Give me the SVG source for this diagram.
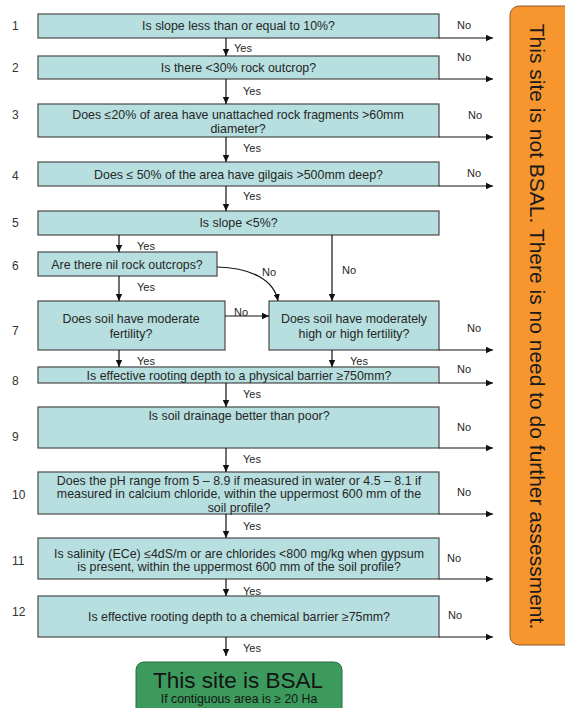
<svg xmlns="http://www.w3.org/2000/svg" width="565" height="708" viewBox="0 0 565 708">
<style>
.box{fill:#B7DFDF;stroke:#4a4a4a;stroke-width:1.2}
.t{font-family:"Liberation Sans",Arial,sans-serif;font-size:12.4px;fill:#262626;text-anchor:middle}
.n{font-family:"Liberation Sans",Arial,sans-serif;font-size:12px;fill:#333}
.l{font-family:"Liberation Sans",Arial,sans-serif;font-size:11px;fill:#262626}
.c{fill:none;stroke:#111;stroke-width:1.2}
</style>
<defs>
<marker id="ah" markerWidth="8" markerHeight="8" refX="7" refY="4" orient="auto" markerUnits="userSpaceOnUse">
<path d="M0,0.8 L7,4 L0,7.2 Z" fill="#111"/>
</marker>
</defs>
<rect width="565" height="708" fill="#fff"/>

<g id="outcome-not-bsal">
<rect x="510" y="6" width="64" height="639" rx="9" fill="#F7962F" stroke="#8a5a2a" stroke-width="1"/>
<text transform="translate(530,326.5) rotate(90)" text-anchor="middle" font-family="'Liberation Sans',Arial,sans-serif" font-size="21" fill="#1a1a1a">This site is not BSAL. There is no need to do further assessment.</text>
</g>

<g id="outcome-bsal">
<rect x="136" y="662" width="206" height="56" rx="8" fill="#3C9B5C" stroke="#2a6b40" stroke-width="1"/>
<text x="238" y="688" text-anchor="middle" font-family="'Liberation Sans',Arial,sans-serif" font-size="22.5" fill="#141414">This site is BSAL</text>
<text x="239" y="703" text-anchor="middle" font-family="'Liberation Sans',Arial,sans-serif" font-size="12.3" fill="#141414">If contiguous area is ≥ 20 Ha</text>
</g>

<g id="q1"><text class="n" x="12" y="30">1</text><rect class="box" x="38" y="14" width="401" height="24"/><text class="t" x="238.5" y="30">Is slope less than or equal to 10%?</text></g>
<g id="q2"><text class="n" x="12" y="72">2</text><rect class="box" x="38" y="56" width="401" height="23"/><text class="t" x="238.5" y="72">Is there &lt;30% rock outcrop?</text></g>
<g id="q3"><text class="n" x="12" y="119">3</text><rect class="box" x="38" y="104" width="401" height="33"/><text class="t" x="238" y="119">Does ≤20% of area have unattached rock fragments &gt;60mm</text><text class="t" x="238" y="133">diameter?</text></g>
<g id="q4"><text class="n" x="12" y="180">4</text><rect class="box" x="38" y="162" width="401" height="24"/><text class="t" x="238.5" y="179">Does ≤ 50% of the area have gilgais &gt;500mm deep?</text></g>
<g id="q5"><text class="n" x="12" y="227">5</text><rect class="box" x="38" y="211" width="401" height="24"/><text class="t" x="238.5" y="227">Is slope &lt;5%?</text></g>
<g id="q6"><text class="n" x="12" y="270">6</text><rect class="box" x="38" y="252" width="179" height="24"/><text class="t" x="127" y="269">Are there nil rock outcrops?</text></g>
<g id="q7a"><text class="n" x="12" y="335">7</text><rect class="box" x="38" y="301" width="187" height="49"/><text class="t" x="131" y="323">Does soil have moderate</text><text class="t" x="131" y="338">fertility?</text></g>
<g id="q7b"><rect class="box" x="269" y="301" width="170" height="49"/><text class="t" x="354" y="323">Does soil have moderately</text><text class="t" x="354" y="338">high or high fertility?</text></g>
<g id="q8"><text class="n" x="12" y="385">8</text><rect class="box" x="38" y="367" width="401" height="16"/><text class="t" x="239" y="380">Is effective rooting depth to a physical barrier ≥750mm?</text></g>
<g id="q9"><text class="n" x="12" y="441">9</text><rect class="box" x="38" y="407" width="401" height="41"/><text class="t" x="239" y="420">Is soil drainage better than poor?</text></g>
<g id="q10"><text class="n" x="12" y="499">10</text><rect class="box" x="38" y="472" width="401" height="42"/><text class="t" x="239" y="485">Does the pH range from 5 – 8.9 if measured in water or 4.5 – 8.1 if</text><text class="t" x="239" y="498">measured in calcium chloride, within the uppermost 600 mm of the</text><text class="t" x="239" y="512">soil profile?</text></g>
<g id="q11"><text class="n" x="12" y="565">11</text><rect class="box" x="38" y="538" width="401" height="41"/><text class="t" x="239" y="558">Is salinity (ECe) ≤4dS/m or are chlorides &lt;800 mg/kg when gypsum</text><text class="t" x="239" y="571">is present, within the uppermost 600 mm of the soil profile?</text></g>
<g id="q12"><text class="n" x="12" y="616">12</text><rect class="box" x="38" y="596" width="401" height="41"/><text class="t" x="239" y="621">Is effective rooting depth to a chemical barrier ≥75mm?</text></g>

<g id="connectors">
<path class="c" d="M226,38 V56" marker-end="url(#ah)"/>
<path class="c" d="M226,79 V104" marker-end="url(#ah)"/>
<path class="c" d="M226,137 V162" marker-end="url(#ah)"/>
<path class="c" d="M226,186 V211" marker-end="url(#ah)"/>
<path class="c" d="M119,235 V252" marker-end="url(#ah)"/>
<path class="c" d="M119,276 V301" marker-end="url(#ah)"/>
<path class="c" d="M332,235 V301" marker-end="url(#ah)"/>
<path class="c" d="M217,267 C252,268 274,280 278,301" marker-end="url(#ah)"/>
<path class="c" d="M225,316 H269" marker-end="url(#ah)"/>
<path class="c" d="M119,350 V367" marker-end="url(#ah)"/>
<path class="c" d="M332,350 V367" marker-end="url(#ah)"/>
<path class="c" d="M226,383 V407" marker-end="url(#ah)"/>
<path class="c" d="M226,448 V472" marker-end="url(#ah)"/>
<path class="c" d="M226,514 V538" marker-end="url(#ah)"/>
<path class="c" d="M226,579 V596" marker-end="url(#ah)"/>
<path class="c" d="M226,637 V656" marker-end="url(#ah)"/>

<path class="c" d="M439,38 H493" marker-end="url(#ah)"/>
<path class="c" d="M439,79 H493" marker-end="url(#ah)"/>
<path class="c" d="M439,137 H493" marker-end="url(#ah)"/>
<path class="c" d="M439,186 H493" marker-end="url(#ah)"/>
<path class="c" d="M439,350 H493" marker-end="url(#ah)"/>
<path class="c" d="M439,383 H493" marker-end="url(#ah)"/>
<path class="c" d="M439,448 H493" marker-end="url(#ah)"/>
<path class="c" d="M439,514 H493" marker-end="url(#ah)"/>
<path class="c" d="M439,579 H493" marker-end="url(#ah)"/>
<path class="c" d="M439,637 H493" marker-end="url(#ah)"/>

<text class="l" x="234" y="52">Yes</text>
<text class="l" x="243" y="95">Yes</text>
<text class="l" x="243" y="152">Yes</text>
<text class="l" x="243" y="200">Yes</text>
<text class="l" x="137" y="250">Yes</text>
<text class="l" x="137" y="291">Yes</text>
<text class="l" x="137" y="365">Yes</text>
<text class="l" x="350" y="365">Yes</text>
<text class="l" x="243" y="398">Yes</text>
<text class="l" x="243" y="463">Yes</text>
<text class="l" x="243" y="530">Yes</text>
<text class="l" x="243" y="595">Yes</text>
<text class="l" x="243" y="652">Yes</text>

<text class="l" x="342" y="274">No</text>
<text class="l" x="262" y="276">No</text>
<text class="l" x="234" y="316">No</text>
<text class="l" x="457" y="29">No</text>
<text class="l" x="457" y="61">No</text>
<text class="l" x="468" y="119">No</text>
<text class="l" x="467" y="177">No</text>
<text class="l" x="467" y="332">No</text>
<text class="l" x="457" y="373">No</text>
<text class="l" x="457" y="431">No</text>
<text class="l" x="457" y="496">No</text>
<text class="l" x="447" y="562">No</text>
<text class="l" x="448" y="619">No</text>
</g>
</svg>
